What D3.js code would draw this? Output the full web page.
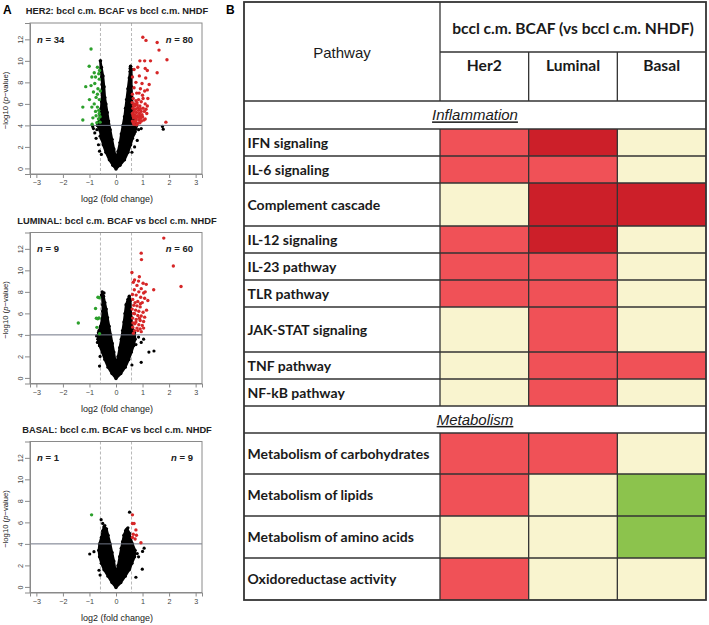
<!DOCTYPE html>
<html><head><meta charset="utf-8">
<script src="https://cdn.jsdelivr.net/npm/d3@7"></script>
<style>body{margin:0;background:#fff} svg{display:block}</style>
</head><body>
<svg id="c" width="709" height="625"></svg>
<script>
// ---------------- DATA ----------------
const volcanoTitles = ["HER2: bccl c.m. BCAF vs bccl c.m. NHDF",
                       "LUMINAL: bccl c.m. BCAF vs bccl c.m. NHDF",
                       "BASAL: bccl c.m. BCAF vs bccl c.m. NHDF"];
const nDown = [34, 9, 1];
const nUp = [80, 60, 9];
const xTicks = [-3, -2, -1, 0, 1, 2, 3];
const yTicks = [0, 2, 4, 6, 8, 10, 12];
const foldThreshold = 0.585;
const pThreshold = 4;

// dense non-significant cloud outlines [log2FC, -log10 p]
const her2Cloud = [[0,-0.05],[-0.12,0.3],[-0.25,0.8],[-0.38,1.5],[-0.48,2.2],[-0.55,2.8],[-0.6,3.5],[-0.7,4.0],[-0.62,4.5],[-0.6,5.0],[-0.56,5.6],[-0.54,6.2],[-0.52,7.0],[-0.52,7.8],[-0.54,8.5],[-0.57,9.2],[-0.59,10.0],
  [-0.55,9.4],[-0.49,8.6],[-0.45,7.6],[-0.42,6.6],[-0.38,6.0],[-0.33,5.2],[-0.28,4.4],[-0.22,3.6],[-0.15,2.7],[-0.08,1.8],[-0.02,1.1],[0.02,1.0],
  [0.08,1.6],[0.15,2.4],[0.2,3.2],[0.26,4.0],[0.32,4.8],[0.36,5.6],[0.4,6.4],[0.45,7.4],[0.5,8.4],[0.53,9.0],[0.55,9.5],
  [0.58,9.2],[0.58,8.6],[0.58,7.6],[0.6,6.6],[0.62,5.6],[0.65,4.8],[0.78,4.0],[0.72,3.4],[0.62,2.8],[0.55,2.2],[0.45,1.5],[0.32,0.8],[0.15,0.3]];
const her2Other = [[-0.88,3.9],[-0.85,3.7],[-0.8,3.3],[-0.75,2.8],[-0.66,2.2],[-0.62,1.6],[-0.55,1.3],[0.75,3.7],[0.85,3.6],[0.95,3.7],[1.75,3.9],[1.78,3.65],[0.8,2.6],[0.7,2.0],[0.6,1.5],[-0.6,3.0],[-0.58,10.0],[0.55,9.5],[0.53,9.3],[-0.66,4.3],[-0.72,3.6],[0.7,4.2],[0.68,3.2]];
const her2Down = [[-0.94,11.1],[-1.01,9.5],[-0.70,9.4],[-0.62,9.1],[-0.82,8.9],[-0.91,8.5],[-0.77,8.5],[-0.63,8.3],[-1.14,7.6],[-0.94,7.7],[-0.68,7.4],[-0.59,7.2],[-0.85,7.1],[-1.0,6.4],[-0.75,6.6],[-0.63,6.4],[-0.82,6.0],[-1.25,5.7],[-0.91,5.7],[-0.70,5.7],[-0.77,5.3],[-0.63,5.1],[-0.75,4.9],[-1.25,4.5],[-0.87,4.7],[-0.66,4.6],[-0.6,4.8],[-0.9,4.1],[-0.72,4.25],[-0.65,8.8],[-0.8,7.9],[-0.7,6.9],[-0.65,5.4],[-0.6,4.3]];
const her2Up = [[1.01,12.2],[1.13,11.9],[1.55,11.7],[1.62,11.0],[1.92,10.1],[1.30,10.0],[0.90,10.0],[1.08,10.0],[0.82,9.4],[1.10,9.3],[1.18,9.1],[0.68,9.2],[1.55,8.9],[0.88,8.6],[1.12,8.4],[0.62,8.5],[0.75,8.0],[0.98,7.9],[1.25,7.8],[0.68,7.5],[0.92,7.4],[1.08,7.2],[1.18,7.3],[0.78,7.0],[0.62,6.9],[1.0,6.8],
  [0.65,6.5],[0.75,6.3],[0.85,6.4],[0.95,6.2],[1.10,6.0],[1.18,5.8],[0.70,6.0],[0.80,5.9],[0.90,5.8],[1.02,5.6],[0.64,5.6],[0.74,5.5],[0.85,5.4],[0.95,5.3],[1.07,5.3],[1.16,5.1],[0.62,5.1],[0.70,5.0],[0.80,4.9],[0.90,4.9],[1.00,4.8],[0.66,4.7],[0.76,4.6],[0.86,4.5],[0.96,4.4],[0.62,4.4],[0.72,4.3],[0.82,4.2],[0.68,4.1],[0.78,4.05],[1.10,4.6],[1.88,4.3],[0.61,6.1],[0.68,5.3],[0.77,5.2],[0.88,5.1],[0.98,5.0],[0.64,4.9],[0.72,4.75],[0.84,4.75],[0.93,4.65],[1.05,4.5],[0.70,5.8],[0.82,5.65],[0.92,5.55],[1.13,5.5],[0.74,4.45],[0.65,4.25],[0.90,4.25],[1.02,6.5],[0.87,7.0],[1.2,6.5],[0.66,5.85],[0.79,6.1]];

const luminalCloud = [[0,-0.05],[-0.15,0.4],[-0.3,1.0],[-0.42,1.7],[-0.52,2.4],[-0.62,3.0],[-0.68,3.6],[-0.66,4.2],[-0.58,4.8],[-0.52,5.5],[-0.5,6.2],[-0.5,6.8],[-0.52,7.6],[-0.52,8.0],
  [-0.47,7.6],[-0.42,7.0],[-0.37,6.4],[-0.32,5.6],[-0.26,4.8],[-0.2,4.0],[-0.14,3.2],[-0.08,2.4],[-0.03,1.6],[0.02,1.4],
  [0.08,2.0],[0.14,2.8],[0.2,3.6],[0.25,4.4],[0.3,5.2],[0.34,6.0],[0.38,6.8],[0.45,7.3],[0.5,7.6],
  [0.54,7.2],[0.55,6.4],[0.58,5.6],[0.6,4.8],[0.7,4.2],[0.72,3.6],[0.66,3.0],[0.58,2.4],[0.48,1.7],[0.35,1.0],[0.18,0.4]];
const luminalOther = [[-0.73,3.9],[-0.7,3.3],[-0.62,1.1],[-0.6,2.0],[-0.55,7.7],[-0.45,7.9],[0.85,3.8],[1.04,3.6],[0.95,3.3],[1.24,2.4],[1.43,2.5],[0.95,1.45],[0.6,1.2],[0.75,3.1],[-0.64,4.4],[0.66,4.0]];
const luminalDown = [[-1.42,5.1],[-0.68,7.5],[-0.63,7.45],[-0.77,6.45],[-0.74,5.55],[-0.69,5.5],[-0.64,5.57],[-0.72,4.7],[-0.62,4.1]];
const luminalUp = [[1.80,13.0],[2.16,10.4],[2.45,8.5],[0.95,11.6],[0.96,11.0],[0.60,9.8],
  [0.70,9.1],[0.85,9.0],[1.02,8.8],[1.14,8.7],[0.79,8.6],[0.95,8.3],[1.42,8.2],[0.69,8.2],[0.86,8.0],[1.04,7.9],[0.62,7.75],[0.76,7.7],[0.93,7.5],[1.08,7.4],[0.63,7.3],[0.82,7.1],[0.99,7.0],[0.67,6.75],[0.79,6.7],[0.91,6.6],[0.61,6.4],[0.74,6.3],[0.86,6.2],[1.02,6.1],[0.70,5.97],[0.82,5.8],[0.95,5.75],[1.08,5.65],[0.63,5.56],[0.76,5.44],[0.91,5.34],[1.04,5.25],[0.71,5.03],[0.86,4.94],[0.99,4.88],[0.63,4.72],[0.79,4.63],[0.91,4.56],[1.04,4.63],[0.70,4.4],[0.82,4.4],[0.95,4.3],
  [0.65,8.9],[0.88,9.4],[1.1,8.0],[0.72,7.0],[0.66,6.0],[0.92,6.9],[1.15,6.3],[0.75,5.2],[0.64,5.1],[0.88,5.55],[0.66,4.15],[1.2,7.2]];

const basalCloud = [[0,-0.05],[-0.15,0.4],[-0.3,1.0],[-0.45,1.6],[-0.55,2.2],[-0.62,2.8],[-0.65,3.4],[-0.62,4.0],[-0.55,4.6],[-0.5,5.2],[-0.45,5.6],
  [-0.36,5.4],[-0.3,4.8],[-0.22,4.0],[-0.15,3.2],[-0.08,2.4],[-0.03,1.6],[0.02,1.4],
  [0.08,2.0],[0.14,2.8],[0.2,3.6],[0.25,4.2],[0.3,4.8],[0.36,5.2],[0.42,5.4],
  [0.5,5.0],[0.55,4.5],[0.62,4.0],[0.72,3.4],[0.7,2.8],[0.6,2.2],[0.5,1.6],[0.35,1.0],[0.18,0.4]];
const basalOther = [[0.51,6.95],[-0.56,6.25],[-0.5,5.9],[-0.42,5.7],[-0.99,3.06],[-0.83,3.28],[1.0,3.3],[1.06,3.6],[0.99,1.65],[-0.64,1.55],[-0.6,1.1],[0.85,2.8],[0.8,3.1],[0.75,0.9],[0.45,5.5],[0.38,5.3]];
const basalDown = [[-0.92,6.7]];
const basalUp = [[0.62,6.7],[0.62,5.9],[0.68,5.9],[0.75,5.3],[0.65,4.9],[0.77,4.8],[0.62,4.6],[0.72,4.45],[0.94,4.1]];

// table data
const tableTitle = "bccl c.m. BCAF (vs bccl c.m. NHDF)";
const subtypes = ["Her2", "Luminal", "Basal"];
const sectionNames = ["Inflammation", "Metabolism"];
const inflammationPathways = ["IFN signaling","IL-6 signaling","Complement cascade","IL-12 signaling","IL-23 pathway","TLR pathway","JAK-STAT signaling","TNF pathway","NF-kB pathway"];
// 2 = strongly up, 1 = up, 0 = unchanged, -1 = down
const inflammationLevels = [[1,2,0],[1,1,0],[0,2,2],[1,2,0],[1,1,0],[1,1,0],[0,1,0],[0,1,1],[0,1,0]];
const metabolismPathways = ["Metabolism of carbohydrates","Metabolism of lipids","Metabolism of amino acids","Oxidoreductase activity"];
const metabolismLevels = [[1,1,0],[1,0,-1],[0,0,-1],[1,0,0]];

// ---------------- LAYOUT ----------------
const svg = d3.select("#c");
const plotLeft = 30, plotRight = 202, plotH = 151;
const plotTops = [23, 232.5, 441.5];
const panels = [
  {cloud: her2Cloud, other: her2Other, down: her2Down, up: her2Up},
  {cloud: luminalCloud, other: luminalOther, down: luminalDown, up: luminalUp},
  {cloud: basalCloud, other: basalOther, down: basalDown, up: basalUp}
];
const FONT = "'Liberation Sans', Arial, sans-serif";

svg.append("text").attr("x", 3).attr("y", 14).attr("font-family", FONT)
  .attr("font-weight", "bold").attr("font-size", 12).text("A");
svg.append("text").attr("x", 226).attr("y", 14).attr("font-family", FONT)
  .attr("font-weight", "bold").attr("font-size", 12).text("B");

panels.forEach((p, i) => {
  const top = plotTops[i];
  const x = d3.scaleLinear().domain([-3.24, 3.24]).range([plotLeft, plotRight]);
  const y = d3.scaleLinear().domain([-0.52, 13.52]).range([top + plotH, top]);
  const g = svg.append("g");

  g.append("text").attr("x", (plotLeft + plotRight) / 2 + 1).attr("y", top - 9)
    .attr("text-anchor", "middle").attr("font-family", FONT).attr("font-weight", "bold")
    .attr("font-size", 9.3).attr("fill", "#222").text(volcanoTitles[i]);

  [-foldThreshold, foldThreshold].forEach(v => {
    g.append("line").attr("x1", x(v)).attr("x2", x(v)).attr("y1", top).attr("y2", top + plotH)
      .attr("stroke", "#b0b0b0").attr("stroke-width", 0.9).attr("stroke-dasharray", "3,2");
  });

  g.append("path").datum(p.cloud)
    .attr("d", d3.line().x(d => x(d[0])).y(d => y(d[1])).curve(d3.curveLinearClosed))
    .attr("fill", "#000").attr("stroke", "#000").attr("stroke-width", 2.4).attr("stroke-linejoin", "round");
  g.selectAll(".v").data(p.cloud).join("circle").attr("cx", d => x(d[0])).attr("cy", d => y(d[1]))
    .attr("r", 1.7).attr("fill", "#000");
  g.selectAll(".o").data(p.other).join("circle").attr("cx", d => x(d[0])).attr("cy", d => y(d[1]))
    .attr("r", 1.6).attr("fill", "#000");

  g.append("line").attr("x1", plotLeft).attr("x2", plotRight).attr("y1", y(pThreshold)).attr("y2", y(pThreshold))
    .attr("stroke", "#6f7686").attr("stroke-width", 1);

  g.selectAll(".d").data(p.down).join("circle").attr("cx", d => x(d[0])).attr("cy", d => y(d[1]))
    .attr("r", 1.7).attr("fill", "#2ca02c");
  g.selectAll(".u").data(p.up).join("circle").attr("cx", d => x(d[0])).attr("cy", d => y(d[1]))
    .attr("r", 1.7).attr("fill", "#d62728");

  g.append("rect").attr("x", plotLeft).attr("y", top).attr("width", plotRight - plotLeft).attr("height", plotH)
    .attr("fill", "none").attr("stroke", "#8a8a8a").attr("stroke-width", 1);

  const ax = g.append("g").attr("transform", `translate(0,${top + plotH})`)
    .call(d3.axisBottom(x).tickValues(xTicks).tickSize(4).tickPadding(2).tickFormat(d => d < 0 ? "\u2212" + Math.abs(d) : d));
  ax.select(".domain").attr("stroke", "#8a8a8a");
  ax.selectAll(".tick line").attr("stroke", "#8a8a8a");
  ax.selectAll("text").attr("font-family", FONT).attr("font-size", 7.2).attr("fill", "#444");

  const ay = g.append("g").attr("transform", `translate(${plotLeft},0)`)
    .call(d3.axisLeft(y).tickValues(yTicks).tickSize(5));
  ay.select(".domain").attr("stroke", "#8a8a8a");
  ay.selectAll(".tick line").attr("stroke", "#8a8a8a");
  ay.selectAll("text").attr("font-family", FONT).attr("font-size", 7.2).attr("fill", "#444")
    .attr("transform", "rotate(-90)").attr("x", 0).attr("y", -7.5).attr("dy", 0).attr("text-anchor", "middle");

  g.append("text").attr("x", (plotLeft + plotRight) / 2 + 1).attr("y", top + plotH + 28)
    .attr("text-anchor", "middle").attr("font-family", FONT).attr("font-size", 9).attr("fill", "#222")
    .text("log2 (fold change)");
  const yl = g.append("text").attr("transform", `translate(8,${top + plotH / 2 + 2}) rotate(-90)`)
    .attr("text-anchor", "middle").attr("font-family", FONT).attr("font-size", 7.7).attr("fill", "#222");
  yl.append("tspan").text("\u2212log10 (");
  yl.append("tspan").attr("font-style", "italic").text("p");
  yl.append("tspan").text("\u2212value)");

  const nl = g.append("text").attr("x", plotLeft + 7).attr("y", y(12) + 3.5).attr("font-family", FONT)
    .attr("font-size", 9.5).attr("font-weight", "bold").attr("fill", "#222");
  nl.append("tspan").attr("font-style", "italic").text("n");
  nl.append("tspan").text(" = " + nDown[i]);
  const nr = g.append("text").attr("x", plotRight - 9).attr("y", y(12) + 3.5).attr("text-anchor", "end")
    .attr("font-family", FONT).attr("font-size", 9.5).attr("font-weight", "bold").attr("fill", "#222");
  nr.append("tspan").attr("font-style", "italic").text("n");
  nr.append("tspan").text(" = " + nUp[i]);
});

// ---------------- TABLE ----------------
const tLeft = 244, tRight = 706, pathRight = 440, tTop = 2, subTop = 52, headBottom = 101;
const sectionH = 27;
const inflRowH = [27, 27, 43, 27, 27, 27, 45, 27, 27];
const metaRowH = [41, 42, 42, 42];
const TFONT = "Lato, 'Open Sans', sans-serif";
const color = d3.scaleOrdinal().domain([-1, 0, 1, 2]).range(["#8cc34d", "#f9f4cf", "#f05157", "#cc1f29"]);
const colX = d3.scaleBand().domain(subtypes).range([pathRight, tRight]);

const tg = svg.append("g");
const rows = [];
let cy = headBottom;
function addSection(name, paths, levels, heights) {
  const sh = sectionH + (name === "Inflammation" ? 1 : 0);
  rows.push({type: "section", name, y: cy, h: sh});
  cy += sh;
  paths.forEach((pn, k) => { rows.push({type: "row", name: pn, levels: levels[k], y: cy, h: heights[k]}); cy += heights[k]; });
}
addSection(sectionNames[0], inflammationPathways, inflammationLevels, inflRowH);
addSection(sectionNames[1], metabolismPathways, metabolismLevels, metaRowH);
const tBottom = cy;

rows.filter(r => r.type === "row").forEach(r => {
  tg.selectAll(null).data(subtypes).join("rect")
    .attr("x", s => colX(s)).attr("y", r.y).attr("width", colX.bandwidth()).attr("height", r.h)
    .attr("fill", (s, j) => color(r.levels[j]));
  tg.append("text").attr("x", tLeft + 3.5).attr("y", r.y + r.h / 2).attr("dy", "0.36em")
    .attr("font-family", TFONT).attr("font-weight", "bold").attr("font-size", 14).attr("fill", "#1a1a1a")
    .text(r.name);
});
const lineCol = "#333";
rows.forEach(r => {
  tg.append("line").attr("x1", tLeft).attr("x2", tRight).attr("y1", r.y).attr("y2", r.y)
    .attr("stroke", lineCol).attr("stroke-width", 1.3);
});
tg.append("line").attr("x1", pathRight).attr("x2", tRight).attr("y1", subTop).attr("y2", subTop)
  .attr("stroke", lineCol).attr("stroke-width", 1.3);
tg.append("line").attr("x1", pathRight).attr("x2", pathRight).attr("y1", tTop).attr("y2", headBottom).attr("stroke", lineCol).attr("stroke-width", 1.3);
subtypes.slice(1).forEach(s => {
  tg.append("line").attr("x1", colX(s)).attr("x2", colX(s)).attr("y1", subTop).attr("y2", headBottom).attr("stroke", lineCol).attr("stroke-width", 1.3);
});
rows.filter(r => r.type === "row").forEach(r => {
  [pathRight, colX("Luminal"), colX("Basal")].forEach(xv => {
    tg.append("line").attr("x1", xv).attr("x2", xv).attr("y1", r.y).attr("y2", r.y + r.h).attr("stroke", lineCol).attr("stroke-width", 1.3);
  });
});
tg.append("rect").attr("x", tLeft).attr("y", tTop).attr("width", tRight - tLeft).attr("height", tBottom - tTop)
  .attr("fill", "none").attr("stroke", lineCol).attr("stroke-width", 1.8);

tg.append("text").attr("x", (tLeft + pathRight) / 2).attr("y", 53).attr("dy", "0.36em").attr("text-anchor", "middle")
  .attr("font-family", FONT).attr("font-size", 15).attr("fill", "#1a1a1a").text("Pathway");
tg.append("text").attr("x", (pathRight + tRight) / 2).attr("y", 28).attr("dy", "0.36em").attr("text-anchor", "middle")
  .attr("font-family", TFONT).attr("font-weight", "bold").attr("font-size", 15.6).attr("fill", "#1a1a1a").text(tableTitle);
tg.selectAll(null).data(subtypes).join("text")
  .attr("x", s => colX(s) + colX.bandwidth() / 2).attr("y", 65).attr("dy", "0.36em").attr("text-anchor", "middle")
  .attr("font-family", TFONT).attr("font-weight", "bold").attr("font-size", 15.6).attr("fill", "#1a1a1a").text(s => s);
rows.filter(r => r.type === "section").forEach(r => {
  tg.append("text").attr("x", (tLeft + tRight) / 2).attr("y", r.y + r.h / 2).attr("dy", "0.36em").attr("text-anchor", "middle")
    .attr("font-family", FONT).attr("font-style", "italic").attr("font-size", 15).attr("fill", "#1a1a1a")
    .attr("text-decoration", "underline").text(r.name);
});
</script>
</body></html>
